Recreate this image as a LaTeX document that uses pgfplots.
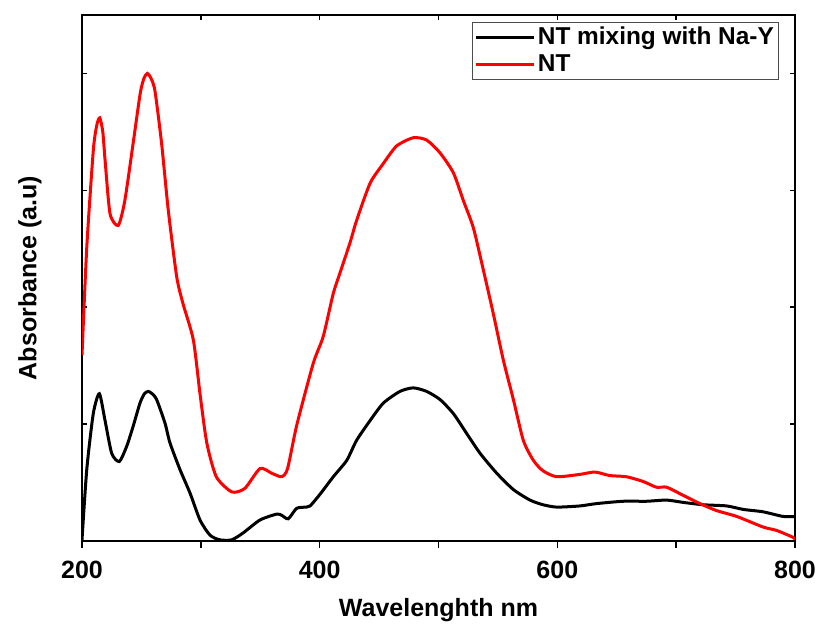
\documentclass[border=0pt]{standalone}
\usepackage{pgfplots}
\pgfplotsset{compat=1.18}
\usepackage{fontspec}
\setmainfont{Liberation Sans}
\usetikzlibrary{calc}

\definecolor{spred}{RGB}{255,0,0}

\begin{document}
\begin{tikzpicture}
\bfseries
\fontsize{12.5}{15}\selectfont
% main frame, inward ticks, curves and legend
\begin{axis}[
    name=main,
    scale only axis,
    width=356.5pt, height=263pt,
    xmin=200, xmax=800, ymin=0, ymax=4.5,
    axis line style={line width=1pt},
    tick align=inside,
    major tick length=2.5pt,
    tick style={line width=0.8pt, black},
    xtick={200,300,...,800}, xticklabels={},
    xtick pos=top,
    ytick={1,2,3,4}, yticklabels={},
    ylabel={Absorbance (a.u)},
    ylabel style={at={(axis description cs:-0.073,0.5)}, anchor=center, font=\bfseries\fontsize{12.5}{15}\selectfont},
    legend cell align=left,
    legend style={at={(1,1)}, anchor=north east, xshift=-8pt, yshift=-3.5pt,
        draw=black!70, line width=0.4pt, inner sep=1pt, row sep=0pt,
        font=\bfseries\fontsize{12.2}{15}\selectfont,
        nodes={inner sep=1.4pt}},
    legend image code/.code={\draw[#1, line width=1.5pt] (0pt,0pt) -- (29pt,0pt);},
]
\addplot[black, line width=1.5pt, smooth, tension=0.4] coordinates {
(200,0.01) (204,0.61) (209.5,1.09) (214.6,1.26) (219.4,1.03) (225,0.75)
(231.4,0.68) (237.6,0.81) (243,0.98) (248.8,1.18) (252.5,1.26) (255.8,1.28) (259,1.26) (262.8,1.21)
(269.8,1.01) (274,0.84) (282.5,0.61) (290.9,0.41) (299.3,0.18) (307.7,0.05)
(316,0.01) (326,0.01) (335.7,0.07) (349.8,0.18) (363.8,0.23) (368,0.22)
(373.6,0.19) (380.7,0.28) (389,0.29) (392,0.30) (400.3,0.40) (411.5,0.55)
(422.8,0.69) (431,0.86) (442.4,1.03) (453.6,1.18) (467.6,1.28) (478.8,1.31)
(490,1.28) (501.3,1.21) (512.5,1.09) (523.7,0.92) (535,0.75) (549,0.58)
(563,0.44) (577,0.35) (588,0.31) (599.5,0.29) (619,0.30) (633,0.32)
(655.5,0.34) (675,0.34) (692,0.35) (706,0.33) (723,0.31) (742.5,0.30)
(756.5,0.27) (773,0.25) (790,0.21) (800,0.21)
};
\addlegendentry{NT mixing with Na-Y}
\addplot[spred, line width=1.5pt, smooth, tension=0.4] coordinates {
(200,1.59) (204,2.51) (209.5,3.34) (212.5,3.56) (215,3.62) (217.5,3.50) (219.4,3.26) (223.6,2.80)
(230.5,2.70) (236,2.91) (243,3.40) (249,3.83) (252.2,3.96) (255,4.00) (258,3.96) (261.4,3.85)
(267,3.40) (272.6,2.83) (279.7,2.26) (285,2.03) (293.7,1.72) (299.3,1.26)
(305,0.84) (313,0.55) (326,0.42) (337,0.45) (349.8,0.62) (359.6,0.58)
(368,0.55) (373,0.62) (380.7,0.99) (394.6,1.52) (403,1.75) (411.5,2.12)
(417,2.29) (425.5,2.55) (431,2.74) (442.4,3.06) (453.6,3.23) (464.8,3.38)
(478.8,3.45) (490,3.43) (501.3,3.32) (512.5,3.15) (521,2.91) (529.3,2.68)
(537.7,2.32) (546,1.95) (554.5,1.55) (563,1.21) (571.4,0.86) (579.8,0.69)
(588,0.60) (599.5,0.55) (619,0.57) (631.7,0.59) (644,0.56) (658,0.55)
(672,0.51) (683.4,0.46) (692,0.46) (706,0.39) (720,0.32) (734,0.26)
(751,0.21) (773,0.12) (784.6,0.09) (798.6,0.03) (800,0.01)
};
\addlegendentry{NT}
\end{axis}
% bottom axis with outward ticks and labels
\begin{axis}[
    scale only axis,
    width=356.5pt, height=263pt,
    xmin=200, xmax=800, ymin=0, ymax=4.5,
    axis x line*=bottom, axis y line=none,
    axis line style={line width=1pt},
    tick align=outside,
    major tick length=3.5pt,
    tick style={line width=0.8pt, black},
    xtick={200,300,...,800}, xticklabels={200,,400,,600,,800},
    /pgf/number format/assume math mode=true,
    xticklabel style={font=\bfseries\fontsize{12.5}{15}\selectfont, yshift=-2pt},
    xlabel={Wavelenghth nm},
    xlabel style={at={(axis description cs:0.5,-0.131)}, anchor=center, font=\bfseries\fontsize{12.5}{15}\selectfont},
]
\end{axis}
\pgfresetboundingbox
\path[use as bounding box] ($(main.south west)+(-41pt,-44.5pt)$) rectangle ($(main.north east)+(13pt,7.5pt)$);
\end{tikzpicture}
\end{document}
